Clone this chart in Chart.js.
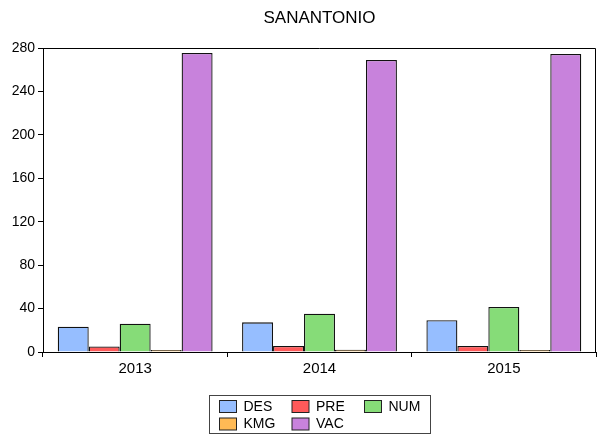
<!DOCTYPE html>
<html>
<head>
<meta charset="utf-8">
<script src="https://cdn.jsdelivr.net/npm/chart.js@4/dist/chart.umd.min.js"></script>
<style>
  html, body { margin: 0; padding: 0; background: #fff; }
  #wrap { width: 597px; height: 440px; position: relative; }
</style>
</head>
<body>
<div id="wrap"><canvas id="chart" width="597" height="440"></canvas></div>
<script>
// === SAN ANTONIO BAR CHART ===

const TITLE = 'SANANTONIO';
const YEARS = ['2013', '2014', '2015'];
const SERIES = ['DES', 'PRE', 'NUM', 'KMG', 'VAC'];

const DES = [23.3, 27.3, 29.2];
const PRE = [5, 5.5, 5.5];
const NUM = [26, 35.3, 41.4];
const KMG = [1.8, 2, 1.8];
const VAC = [275.4, 269, 274.5];

const Y_TICKS = [0, 40, 80, 120, 160, 200, 240, 280];

const COLORS = ['#96BEFF', '#FF5A5A', '#86DC78', '#FFBA55', '#C882DC'];
const FONT = '"Liberation Sans", Arial, sans-serif';

const values = [DES, PRE, NUM, KMG, VAC];

// Title over the plot, plus the closing frame lines and the boxed legend
const framePlugin = {
    id: 'frame',
    afterDraw(chart) {
        const { ctx, chartArea: a } = chart;
        ctx.save();

        ctx.strokeStyle = '#000';
        ctx.lineWidth = 1;
        ctx.beginPath();
        ctx.moveTo(a.left, a.top + 0.5);
        ctx.lineTo(a.right - 0.5, a.top + 0.5);
        ctx.lineTo(a.right - 0.5, a.bottom);
        ctx.stroke();

        ctx.fillStyle = '#000';
        ctx.font = '17px ' + FONT;
        ctx.textAlign = 'center';
        ctx.textBaseline = 'middle';
        ctx.fillText(TITLE, (a.left + a.right) / 2, 18);

        // legend box
        const bx = 209.5, by = 395.5, bw = 221, bh = 38;
        ctx.strokeStyle = '#444';
        ctx.strokeRect(bx, by, bw, bh);

        ctx.textAlign = 'left';
        ctx.font = '14px ' + FONT;
        SERIES.forEach((name, i) => {
            const col = i % 3, row = Math.floor(i / 3);
            const sx = 219.5 + col * 72.5;
            const sy = 400.5 + row * 17.5;
            ctx.fillStyle = COLORS[i];
            ctx.fillRect(sx, sy, 17, 12);
            ctx.strokeStyle = '#222';
            ctx.strokeRect(sx, sy, 17, 12);
            ctx.fillStyle = '#000';
            ctx.fillText(name, sx + 24, sy + 6.5);
        });

        ctx.restore();
    }
};

const datasets = SERIES.map((name, i) => ({
    label: name,
    data: values[i],
    backgroundColor: COLORS[i],
    borderColor: '#111',
    borderWidth: 1.3,
    categoryPercentage: 0.84,
    barPercentage: 1.0
}));

new Chart(document.getElementById('chart'), {
    type: 'bar',
    data: { labels: YEARS, datasets },
    options: {
        responsive: false,
        animation: false,
        layout: { padding: { top: 48, right: 1, bottom: 58, left: 0 } },
        plugins: {
            legend: { display: false },
            title: { display: false },
            tooltip: { enabled: false }
        },
        scales: {
            x: {
                offset: true,
                grid: {
                    offset: true,
                    drawOnChartArea: false,
                    drawTicks: true,
                    tickLength: 5,
                    color: '#000'
                },
                border: { display: true, color: '#000', width: 1 },
                ticks: {
                    color: '#000',
                    font: { family: FONT, size: 15 },
                    padding: 3
                },
                afterFit(scale) { scale.height = 30; }
            },
            y: {
                min: 0,
                max: 280,
                afterBuildTicks(scale) {
                    scale.ticks = Y_TICKS.map(v => ({ value: v }));
                },
                grid: {
                    drawOnChartArea: false,
                    drawTicks: true,
                    tickLength: 5,
                    color: '#000'
                },
                border: { display: true, color: '#000', width: 1 },
                ticks: {
                    color: '#000',
                    font: { family: FONT, size: 14 },
                    padding: 3
                },
                afterFit(scale) { scale.width = 43; }
            }
        }
    },
    plugins: [framePlugin]
});
</script>
</body>
</html>
